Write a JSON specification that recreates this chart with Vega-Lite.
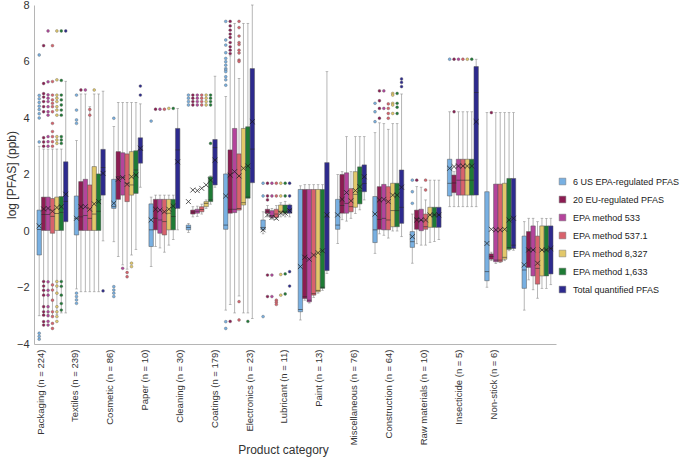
{
"$schema": "https://vega.github.io/schema/vega-lite/v6.json",
"width": 522, "height": 339,
"autosize": {"type": "none"},
"padding": {"left": 34, "top": 5, "right": 129, "bottom": 118},
"config": {"view": {"stroke": null}, "font": "Liberation Sans"},
"datasets": {
"boxes": [
{"c":"a","s":"A","lo":-3.0,"q1":-0.85,"md":0.05,"q3":0.74,"hi":3.0,"mn":0.18},
{"c":"a","s":"B","lo":-2.95,"q1":0.02,"md":0.58,"q3":1.2,"hi":2.9,"mn":0.78},
{"c":"a","s":"C","lo":-2.95,"q1":0.02,"md":0.58,"q3":1.2,"hi":2.9,"mn":0.8},
{"c":"a","s":"D","lo":-3.0,"q1":-0.08,"md":0.52,"q3":1.15,"hi":2.9,"mn":0.7},
{"c":"a","s":"E","lo":-2.95,"q1":0.02,"md":0.62,"q3":1.2,"hi":2.9,"mn":0.83},
{"c":"a","s":"F","lo":-2.9,"q1":0.02,"md":0.66,"q3":1.22,"hi":2.9,"mn":0.86},
{"c":"a","s":"G","lo":-2.9,"q1":0.33,"md":1.05,"q3":2.45,"hi":5.3,"mn":1.3},
{"c":"b","s":"A","lo":-2.05,"q1":-0.14,"md":0.45,"q3":1.24,"hi":3.2,"mn":0.45},
{"c":"b","s":"B","lo":-2.15,"q1":0.02,"md":0.5,"q3":1.75,"hi":4.85,"mn":0.86},
{"c":"b","s":"C","lo":-2.15,"q1":0.02,"md":0.55,"q3":1.83,"hi":4.85,"mn":0.86},
{"c":"b","s":"D","lo":-2.15,"q1":0.02,"md":0.45,"q3":1.63,"hi":4.4,"mn":0.77},
{"c":"b","s":"E","lo":-2.15,"q1":0.02,"md":0.6,"q3":2.28,"hi":4.85,"mn":0.96},
{"c":"b","s":"F","lo":-2.15,"q1":0.02,"md":0.7,"q3":2.02,"hi":4.85,"mn":1.04},
{"c":"b","s":"G","lo":-0.35,"q1":1.27,"md":2.25,"q3":2.89,"hi":4.95,"mn":2.04},
{"c":"c","s":"A","lo":-0.38,"q1":0.8,"md":0.86,"q3":1.83,"hi":3.7,"mn":0.98},
{"c":"c","s":"B","lo":-0.9,"q1":1.12,"md":1.92,"q3":2.81,"hi":4.55,"mn":1.83},
{"c":"c","s":"C","lo":-1.2,"q1":1.27,"md":1.9,"q3":2.77,"hi":4.55,"mn":1.89},
{"c":"c","s":"D","lo":-1.35,"q1":1.04,"md":1.69,"q3":2.73,"hi":4.55,"mn":1.65},
{"c":"c","s":"E","lo":-0.85,"q1":1.27,"md":1.63,"q3":2.81,"hi":4.55,"mn":1.92},
{"c":"c","s":"F","lo":-0.65,"q1":1.33,"md":2.16,"q3":2.84,"hi":4.55,"mn":1.98},
{"c":"c","s":"G","lo":1.55,"q1":2.4,"md":2.87,"q3":3.3,"hi":4.5,"mn":2.93},
{"c":"d","s":"A","lo":-1.26,"q1":-0.55,"md":0.04,"q3":0.96,"hi":1.2,"mn":0.39},
{"c":"d","s":"B","lo":-0.55,"q1":0.04,"md":0.45,"q3":1.12,"hi":1.27,"mn":0.77},
{"c":"d","s":"C","lo":-0.6,"q1":-0.08,"md":0.39,"q3":1.12,"hi":1.27,"mn":0.74},
{"c":"d","s":"D","lo":-0.75,"q1":-0.14,"md":0.33,"q3":1.12,"hi":1.27,"mn":0.68},
{"c":"d","s":"E","lo":-0.5,"q1":0.04,"md":0.63,"q3":1.12,"hi":1.27,"mn":0.77},
{"c":"d","s":"F","lo":-0.3,"q1":0.04,"md":0.51,"q3":1.12,"hi":1.27,"mn":0.88},
{"c":"d","s":"G","lo":0.04,"q1":0.8,"md":2.87,"q3":3.63,"hi":4.34,"mn":2.45},
{"c":"e","s":"A","lo":-0.05,"q1":0.04,"md":0.13,"q3":0.21,"hi":0.27,"mn":1.04},
{"c":"e","s":"B","lo":0.5,"q1":0.6,"md":0.67,"q3":0.74,"hi":0.86,"mn":1.45},
{"c":"e","s":"C","lo":0.52,"q1":0.63,"md":0.7,"q3":0.77,"hi":0.88,"mn":1.43},
{"c":"e","s":"D","lo":0.6,"q1":0.68,"md":0.76,"q3":0.86,"hi":0.95,"mn":1.51},
{"c":"e","s":"E","lo":0.8,"q1":0.86,"md":0.98,"q3":1.04,"hi":1.1,"mn":1.63},
{"c":"e","s":"F","lo":0.95,"q1":1.04,"md":1.1,"q3":1.92,"hi":1.95,"mn":1.8},
{"c":"e","s":"G","lo":1.55,"q1":1.63,"md":2.95,"q3":3.24,"hi":5.48,"mn":2.51},
{"c":"f","s":"A","lo":-2.8,"q1":0.06,"md":0.21,"q3":2.02,"hi":4.76,"mn":1.24},
{"c":"f","s":"B","lo":-2.6,"q1":0.63,"md":0.77,"q3":2.87,"hi":6.2,"mn":1.98},
{"c":"f","s":"C","lo":-2.9,"q1":0.65,"md":0.77,"q3":3.63,"hi":7.35,"mn":2.1},
{"c":"f","s":"D","lo":-2.3,"q1":0.74,"md":0.8,"q3":2.73,"hi":5.4,"mn":1.95},
{"c":"f","s":"E","lo":-2.9,"q1":0.92,"md":1.0,"q3":3.63,"hi":7.35,"mn":2.22},
{"c":"f","s":"F","lo":-2.9,"q1":1.16,"md":1.2,"q3":3.69,"hi":7.35,"mn":2.3},
{"c":"f","s":"G","lo":-3.1,"q1":1.71,"md":2.9,"q3":5.75,"hi":8.0,"mn":3.87},
{"c":"g","s":"A","lo":-0.1,"q1":0.04,"md":0.13,"q3":0.39,"hi":0.68,"mn":0.04},
{"c":"g","s":"B","lo":0.5,"q1":0.63,"md":0.7,"q3":0.77,"hi":0.9,"mn":0.57},
{"c":"g","s":"C","lo":0.42,"q1":0.48,"md":0.55,"q3":0.72,"hi":0.8,"mn":0.48},
{"c":"g","s":"D","lo":0.42,"q1":0.48,"md":0.6,"q3":0.77,"hi":0.9,"mn":0.45},
{"c":"g","s":"E","lo":0.5,"q1":0.63,"md":0.7,"q3":0.92,"hi":1.0,"mn":0.63},
{"c":"g","s":"F","lo":0.5,"q1":0.63,"md":0.7,"q3":0.92,"hi":1.05,"mn":0.63},
{"c":"g","s":"G","lo":0.5,"q1":0.63,"md":0.75,"q3":0.92,"hi":0.95,"mn":0.72},
{"c":"h","s":"A","lo":-3.15,"q1":-2.86,"md":-2.78,"q3":1.47,"hi":1.6,"mn":-1.26},
{"c":"h","s":"B","lo":-2.45,"q1":-2.39,"md":-2.33,"q3":1.47,"hi":1.64,"mn":-0.93},
{"c":"h","s":"C","lo":-2.55,"q1":-2.51,"md":-2.45,"q3":1.47,"hi":1.64,"mn":-1.0},
{"c":"h","s":"D","lo":-2.35,"q1":-2.27,"md":-2.22,"q3":1.47,"hi":1.64,"mn":-0.85},
{"c":"h","s":"E","lo":-2.2,"q1":-2.15,"md":-2.1,"q3":1.47,"hi":1.64,"mn":-0.77},
{"c":"h","s":"F","lo":-2.1,"q1":-2.03,"md":-1.99,"q3":1.47,"hi":1.64,"mn":-0.7},
{"c":"h","s":"G","lo":-1.5,"q1":-1.4,"md":0.5,"q3":2.42,"hi":5.64,"mn":0.57},
{"c":"i","s":"A","lo":-0.44,"q1":0.06,"md":0.21,"q3":1.12,"hi":2.0,"mn":0.57},
{"c":"i","s":"B","lo":0.4,"q1":0.63,"md":0.9,"q3":2.0,"hi":2.1,"mn":1.12},
{"c":"i","s":"C","lo":0.35,"q1":0.63,"md":0.98,"q3":2.06,"hi":3.34,"mn":1.36},
{"c":"i","s":"D","lo":0.45,"q1":0.68,"md":0.86,"q3":1.5,"hi":2.1,"mn":1.07},
{"c":"i","s":"E","lo":0.62,"q1":0.84,"md":1.3,"q3":2.1,"hi":3.34,"mn":1.43},
{"c":"i","s":"F","lo":0.75,"q1":0.96,"md":1.42,"q3":2.27,"hi":3.34,"mn":1.57},
{"c":"i","s":"G","lo":1.1,"q1":1.39,"md":1.68,"q3":2.34,"hi":3.34,"mn":1.92},
{"c":"j","s":"A","lo":-0.79,"q1":-0.41,"md":0.04,"q3":1.22,"hi":3.48,"mn":0.6},
{"c":"j","s":"B","lo":-0.1,"q1":0.06,"md":0.41,"q3":1.57,"hi":3.83,"mn":1.1},
{"c":"j","s":"C","lo":-0.15,"q1":0.04,"md":0.45,"q3":1.65,"hi":3.8,"mn":1.12},
{"c":"j","s":"D","lo":-0.25,"q1":0.04,"md":0.39,"q3":1.57,"hi":3.6,"mn":1.04},
{"c":"j","s":"E","lo":0.0,"q1":0.15,"md":0.72,"q3":1.69,"hi":3.8,"mn":1.27},
{"c":"j","s":"F","lo":0.0,"q1":0.15,"md":0.72,"q3":1.69,"hi":3.8,"mn":1.27},
{"c":"j","s":"G","lo":-0.2,"q1":0.27,"md":0.84,"q3":2.16,"hi":4.85,"mn":1.55},
{"c":"k","s":"A","lo":-1.14,"q1":-0.58,"md":-0.38,"q3":-0.02,"hi":0.6,"mn":-0.2},
{"c":"k","s":"B","lo":-0.45,"q1":0.06,"md":0.45,"q3":0.74,"hi":1.57,"mn":0.39},
{"c":"k","s":"C","lo":-0.5,"q1":0.01,"md":0.38,"q3":0.77,"hi":1.55,"mn":0.39},
{"c":"k","s":"D","lo":-0.5,"q1":0.06,"md":0.15,"q3":0.6,"hi":1.1,"mn":0.39},
{"c":"k","s":"E","lo":-0.4,"q1":0.13,"md":0.57,"q3":0.84,"hi":1.8,"mn":0.57},
{"c":"k","s":"F","lo":-0.37,"q1":0.13,"md":0.57,"q3":0.84,"hi":1.8,"mn":0.57},
{"c":"k","s":"G","lo":-0.3,"q1":0.13,"md":0.57,"q3":0.84,"hi":1.8,"mn":0.57},
{"c":"l","s":"A","lo":0.86,"q1":1.24,"md":1.69,"q3":2.54,"hi":4.22,"mn":2.22},
{"c":"l","s":"B","lo":0.86,"q1":1.36,"md":1.7,"q3":1.98,"hi":2.1,"mn":2.28},
{"c":"l","s":"C","lo":0.86,"q1":1.27,"md":1.8,"q3":2.54,"hi":4.22,"mn":2.3},
{"c":"l","s":"D","lo":0.86,"q1":1.27,"md":1.8,"q3":2.54,"hi":4.22,"mn":2.3},
{"c":"l","s":"E","lo":0.86,"q1":1.27,"md":1.8,"q3":2.54,"hi":4.22,"mn":2.3},
{"c":"l","s":"F","lo":0.86,"q1":1.27,"md":1.8,"q3":2.54,"hi":4.22,"mn":2.3},
{"c":"l","s":"G","lo":0.86,"q1":1.27,"md":4.9,"q3":5.82,"hi":6.08,"mn":3.87},
{"c":"m","s":"A","lo":-1.99,"q1":-1.76,"md":-1.44,"q3":1.39,"hi":4.19,"mn":-0.44},
{"c":"m","s":"B","lo":-1.05,"q1":-1.0,"md":-0.9,"q3":-0.81,"hi":-0.75,"mn":0.06},
{"c":"m","s":"C","lo":-1.15,"q1":-1.09,"md":-1.03,"q3":1.66,"hi":4.19,"mn":0.04},
{"c":"m","s":"D","lo":-1.12,"q1":-1.09,"md":-1.03,"q3":1.66,"hi":4.19,"mn":0.04},
{"c":"m","s":"E","lo":-1.05,"q1":-1.0,"md":-0.93,"q3":1.69,"hi":4.19,"mn":0.06},
{"c":"m","s":"F","lo":-0.7,"q1":-0.65,"md":-0.58,"q3":1.86,"hi":4.19,"mn":0.39},
{"c":"m","s":"G","lo":-0.68,"q1":-0.62,"md":-0.5,"q3":1.86,"hi":4.19,"mn":0.45},
{"c":"n","s":"A","lo":-2.8,"q1":-2.03,"md":-1.38,"q3":-0.18,"hi":0.33,"mn":-1.2},
{"c":"n","s":"B","lo":-1.73,"q1":-1.29,"md":-0.67,"q3":-0.02,"hi":0.45,"mn":-0.67},
{"c":"n","s":"C","lo":-2.08,"q1":-1.59,"md":-0.67,"q3":0.18,"hi":0.45,"mn":-0.67},
{"c":"n","s":"D","lo":-2.38,"q1":-1.88,"md":-1.32,"q3":-0.18,"hi":0.33,"mn":-1.14},
{"c":"n","s":"E","lo":-2.03,"q1":-1.59,"md":-0.67,"q3":0.18,"hi":0.45,"mn":-0.67},
{"c":"n","s":"F","lo":-2.03,"q1":-1.59,"md":-0.67,"q3":0.18,"hi":0.45,"mn":-0.67},
{"c":"n","s":"G","lo":-1.9,"q1":-1.52,"md":-0.62,"q3":0.18,"hi":0.45,"mn":-0.62}
],
"outliers": [
{"c":"a","s":"A","v":6.23},{"c":"a","s":"A","v":4.8},{"c":"a","s":"A","v":4.68},{"c":"a","s":"A","v":4.55},{"c":"a","s":"A","v":4.42},{"c":"a","s":"A","v":4.3},{"c":"a","s":"A","v":4.15},{"c":"a","s":"A","v":4.0},{"c":"a","s":"A","v":3.15},{"c":"a","s":"A","v":-3.62},{"c":"a","s":"A","v":-3.73},{"c":"a","s":"A","v":-3.83},
{"c":"a","s":"B","v":6.56},{"c":"a","s":"B","v":5.22},{"c":"a","s":"B","v":4.86},{"c":"a","s":"B","v":4.74},{"c":"a","s":"B","v":4.58},{"c":"a","s":"B","v":4.4},{"c":"a","s":"B","v":4.22},{"c":"a","s":"B","v":3.3},{"c":"a","s":"B","v":3.15},{"c":"a","s":"B","v":3.0},{"c":"a","s":"B","v":-1.79},{"c":"a","s":"B","v":-1.95},{"c":"a","s":"B","v":-2.1},{"c":"a","s":"B","v":-2.27},{"c":"a","s":"B","v":-2.68},{"c":"a","s":"B","v":-2.86},{"c":"a","s":"B","v":-2.98},{"c":"a","s":"B","v":-3.21},{"c":"a","s":"B","v":-3.33},
{"c":"a","s":"C","v":7.08},{"c":"a","s":"C","v":5.28},{"c":"a","s":"C","v":4.82},{"c":"a","s":"C","v":4.7},{"c":"a","s":"C","v":4.58},{"c":"a","s":"C","v":4.4},{"c":"a","s":"C","v":4.22},{"c":"a","s":"C","v":4.1},{"c":"a","s":"C","v":3.34},{"c":"a","s":"C","v":3.16},{"c":"a","s":"C","v":3.0},{"c":"a","s":"C","v":-1.8},{"c":"a","s":"C","v":-2.1},{"c":"a","s":"C","v":-2.27},{"c":"a","s":"C","v":-2.68},{"c":"a","s":"C","v":-2.86},{"c":"a","s":"C","v":-3.0},{"c":"a","s":"C","v":-3.2},{"c":"a","s":"C","v":-3.33},
{"c":"a","s":"D","v":6.56},{"c":"a","s":"D","v":5.29},{"c":"a","s":"D","v":4.81},{"c":"a","s":"D","v":4.64},{"c":"a","s":"D","v":4.52},{"c":"a","s":"D","v":4.4},{"c":"a","s":"D","v":4.22},{"c":"a","s":"D","v":3.81},{"c":"a","s":"D","v":3.52},{"c":"a","s":"D","v":3.34},{"c":"a","s":"D","v":3.16},{"c":"a","s":"D","v":3.0},{"c":"a","s":"D","v":-1.91},{"c":"a","s":"D","v":-2.09},{"c":"a","s":"D","v":-2.45},{"c":"a","s":"D","v":-2.86},{"c":"a","s":"D","v":-3.03},{"c":"a","s":"D","v":-3.27},{"c":"a","s":"D","v":-3.45},
{"c":"a","s":"E","v":7.08},{"c":"a","s":"E","v":5.35},{"c":"a","s":"E","v":4.81},{"c":"a","s":"E","v":4.7},{"c":"a","s":"E","v":4.58},{"c":"a","s":"E","v":4.4},{"c":"a","s":"E","v":4.28},{"c":"a","s":"E","v":4.1},{"c":"a","s":"E","v":3.34},{"c":"a","s":"E","v":3.22},{"c":"a","s":"E","v":3.1},{"c":"a","s":"E","v":-1.79},{"c":"a","s":"E","v":-1.95},{"c":"a","s":"E","v":-2.2},{"c":"a","s":"E","v":-2.68},{"c":"a","s":"E","v":-2.86},{"c":"a","s":"E","v":-3.03},{"c":"a","s":"E","v":-3.2},
{"c":"a","s":"F","v":7.08},{"c":"a","s":"F","v":5.33},{"c":"a","s":"F","v":4.81},{"c":"a","s":"F","v":4.64},{"c":"a","s":"F","v":4.46},{"c":"a","s":"F","v":4.28},{"c":"a","s":"F","v":4.1},{"c":"a","s":"F","v":3.34},{"c":"a","s":"F","v":3.22},{"c":"a","s":"F","v":3.1},{"c":"a","s":"F","v":-1.79},{"c":"a","s":"F","v":-1.96},{"c":"a","s":"F","v":-2.27},{"c":"a","s":"F","v":-2.57},{"c":"a","s":"F","v":-2.8},
{"c":"a","s":"G","v":7.08},
{"c":"b","s":"A","v":4.81},{"c":"b","s":"A","v":4.28},{"c":"b","s":"A","v":3.93},{"c":"b","s":"A","v":3.81},{"c":"b","s":"A","v":-2.2},{"c":"b","s":"A","v":-2.32},{"c":"b","s":"A","v":-2.44},{"c":"b","s":"A","v":-2.56},
{"c":"b","s":"B","v":4.99},{"c":"b","s":"C","v":4.99},{"c":"b","s":"D","v":4.3},{"c":"b","s":"D","v":4.1},{"c":"b","s":"E","v":4.99},{"c":"b","s":"G","v":-2.12},
{"c":"c","s":"A","v":3.99},{"c":"c","s":"A","v":-1.97},{"c":"c","s":"A","v":-2.09},{"c":"c","s":"A","v":-2.2},{"c":"c","s":"A","v":-2.32},
{"c":"c","s":"C","v":-1.32},{"c":"c","s":"D","v":-1.47},{"c":"c","s":"D","v":-1.62},{"c":"c","s":"E","v":-1.14},{"c":"c","s":"E","v":-1.26},{"c":"c","s":"G","v":5.13},{"c":"c","s":"G","v":4.81},
{"c":"d","s":"A","v":3.89},{"c":"d","s":"B","v":4.31},{"c":"d","s":"C","v":4.31},{"c":"d","s":"D","v":4.31},{"c":"d","s":"E","v":4.34},{"c":"d","s":"F","v":4.34},
{"c":"e","s":"A","v":4.81},{"c":"e","s":"A","v":4.7},{"c":"e","s":"A","v":4.58},{"c":"e","s":"A","v":4.46},
{"c":"e","s":"B","v":4.81},{"c":"e","s":"B","v":4.7},{"c":"e","s":"B","v":4.58},{"c":"e","s":"B","v":4.46},
{"c":"e","s":"C","v":4.81},{"c":"e","s":"C","v":4.7},{"c":"e","s":"C","v":4.58},{"c":"e","s":"C","v":4.46},
{"c":"e","s":"D","v":4.81},{"c":"e","s":"D","v":4.7},{"c":"e","s":"D","v":4.58},{"c":"e","s":"D","v":4.46},
{"c":"e","s":"E","v":4.81},{"c":"e","s":"E","v":4.7},{"c":"e","s":"E","v":4.58},{"c":"e","s":"E","v":4.46},
{"c":"e","s":"F","v":4.81},{"c":"e","s":"F","v":4.7},{"c":"e","s":"F","v":4.58},{"c":"e","s":"F","v":4.46},{"c":"e","s":"F","v":3.1},
{"c":"f","s":"A","v":7.42},{"c":"f","s":"A","v":6.76},{"c":"f","s":"A","v":6.58},{"c":"f","s":"A","v":6.31},{"c":"f","s":"A","v":6.11},{"c":"f","s":"A","v":5.99},{"c":"f","s":"A","v":5.87},{"c":"f","s":"A","v":5.75},{"c":"f","s":"A","v":5.7},{"c":"f","s":"A","v":5.64},{"c":"f","s":"A","v":5.46},{"c":"f","s":"A","v":5.35},{"c":"f","s":"A","v":5.16},{"c":"f","s":"A","v":-3.21},{"c":"f","s":"A","v":-3.45},
{"c":"f","s":"B","v":7.42},{"c":"f","s":"B","v":7.26},{"c":"f","s":"B","v":7.11},{"c":"f","s":"B","v":6.97},{"c":"f","s":"B","v":6.85},{"c":"f","s":"B","v":6.67},{"c":"f","s":"B","v":6.52},{"c":"f","s":"B","v":6.4},{"c":"f","s":"B","v":6.28},{"c":"f","s":"B","v":-3.2},
{"c":"f","s":"D","v":7.42},{"c":"f","s":"D","v":7.2},{"c":"f","s":"D","v":6.9},{"c":"f","s":"D","v":6.67},{"c":"f","s":"D","v":6.6},{"c":"f","s":"D","v":6.4},{"c":"f","s":"D","v":6.3},{"c":"f","s":"D","v":6.05},{"c":"f","s":"D","v":6.0},{"c":"f","s":"D","v":-2.5},{"c":"f","s":"D","v":-3.15},
{"c":"f","s":"F","v":-3.2},
{"c":"g","s":"A","v":1.69},{"c":"g","s":"A","v":1.24},{"c":"g","s":"A","v":-3.03},
{"c":"g","s":"B","v":1.69},{"c":"g","s":"B","v":1.24},{"c":"g","s":"B","v":1.1},{"c":"g","s":"B","v":-1.56},{"c":"g","s":"B","v":-2.32},
{"c":"g","s":"C","v":1.69},{"c":"g","s":"C","v":1.24},{"c":"g","s":"C","v":-1.56},{"c":"g","s":"C","v":-2.32},
{"c":"g","s":"D","v":1.69},{"c":"g","s":"D","v":1.24},{"c":"g","s":"D","v":-2.45},{"c":"g","s":"D","v":-2.52},{"c":"g","s":"D","v":-2.6},
{"c":"g","s":"E","v":1.69},{"c":"g","s":"E","v":1.24},{"c":"g","s":"E","v":-1.54},{"c":"g","s":"E","v":-2.27},
{"c":"g","s":"F","v":1.69},{"c":"g","s":"F","v":1.24},{"c":"g","s":"F","v":-1.52},{"c":"g","s":"F","v":-2.23},
{"c":"g","s":"G","v":1.69},{"c":"g","s":"G","v":1.24},{"c":"g","s":"G","v":-1.44},{"c":"g","s":"G","v":-1.95},
{"c":"j","s":"A","v":4.52},{"c":"j","s":"A","v":4.22},{"c":"j","s":"A","v":3.87},
{"c":"j","s":"B","v":4.96},{"c":"j","s":"B","v":4.61},{"c":"j","s":"B","v":4.34},{"c":"j","s":"B","v":3.99},
{"c":"j","s":"C","v":4.96},{"c":"j","s":"C","v":4.34},
{"c":"j","s":"D","v":4.5},{"c":"j","s":"D","v":4.34},{"c":"j","s":"D","v":4.16},{"c":"j","s":"D","v":3.99},
{"c":"j","s":"E","v":4.87},{"c":"j","s":"E","v":4.81},{"c":"j","s":"E","v":4.52},{"c":"j","s":"E","v":4.46},{"c":"j","s":"E","v":4.16},
{"c":"j","s":"F","v":4.87},{"c":"j","s":"F","v":4.52},{"c":"j","s":"F","v":4.38},{"c":"j","s":"F","v":4.16},
{"c":"j","s":"G","v":5.38},{"c":"j","s":"G","v":5.26},{"c":"j","s":"G","v":5.11},
{"c":"k","s":"A","v":1.8},{"c":"k","s":"A","v":1.39},{"c":"k","s":"A","v":0.98},{"c":"k","s":"B","v":1.8},{"c":"k","s":"D","v":1.8},{"c":"k","s":"D","v":1.45},
{"c":"l","s":"A","v":6.08},{"c":"l","s":"B","v":6.08},{"c":"l","s":"B","v":4.22},{"c":"l","s":"C","v":6.08},{"c":"l","s":"D","v":6.08},{"c":"l","s":"E","v":6.08},{"c":"l","s":"F","v":6.08},
{"c":"m","s":"B","v":4.19}
],
"cats": [{"c":"a"},{"c":"b"},{"c":"c"},{"c":"d"},{"c":"e"},{"c":"f"},{"c":"g"},{"c":"h"},{"c":"i"},{"c":"j"},{"c":"k"},{"c":"l"},{"c":"m"},{"c":"n"}]
},
"layer": [
{
"encoding": {
"x": {"field": "c", "type": "nominal", "axis": null,
"scale": {"type": "band", "domain": ["a","b","c","d","e","f","g","h","i","j","k","l","m","n"], "paddingInner": 0.17, "paddingOuter": 0.08}},
"xOffset": {"field": "s", "type": "nominal", "scale": {"domain": ["A","B","C","D","E","F","G"], "paddingInner": 0, "paddingOuter": 0}}
},
"layer": [
{"data": {"name": "boxes"}, "mark": {"type": "rule", "color": "#a3a3a3", "strokeWidth": 0.8},
"encoding": {"y": {"field": "lo", "type": "quantitative",
"scale": {"domain": [-4, 8], "nice": false, "zero": false},
"axis": {"values": [-4,-2,0,2,4,6,8], "title": "log [PFAS] (ppb)", "grid": false, "ticks": false,
"domainColor": "#b5b5b5", "labelColor": "#333", "labelFontSize": 11, "labelPadding": 5,
"titleFontSize": 12, "titleFontWeight": "normal", "titleColor": "#333", "titleX": -16, "titleBaseline": "bottom"}},
"y2": {"field": "hi"}}},
{"data": {"name": "boxes"}, "mark": {"type": "tick", "color": "#8a8a8a", "size": 2.6, "thickness": 0.8},
"encoding": {"y": {"field": "lo", "type": "quantitative"}}},
{"data": {"name": "boxes"}, "mark": {"type": "tick", "color": "#8a8a8a", "size": 2.6, "thickness": 0.8},
"encoding": {"y": {"field": "hi", "type": "quantitative"}}},
{"data": {"name": "boxes"}, "mark": {"type": "bar", "stroke": "#555", "strokeWidth": 0.5, "opacity": 1},
"encoding": {"y": {"field": "q1", "type": "quantitative"}, "y2": {"field": "q3"},
"color": {"field": "s", "type": "nominal",
"scale": {"domain": ["A","B","C","D","E","F","G"], "range": ["#78b0e2","#8c1c52","#b4449c","#d8626c","#e2c86a","#1e7b35","#2d2a8e"]},
"legend": {"title": null, "orient": "none", "legendX": 524, "legendY": 172, "symbolType": "square", "symbolSize": 45,
"symbolStrokeColor": "#777", "symbolStrokeWidth": 0.5, "labelFontSize": 9, "labelColor": "#222", "labelFont": "Liberation Sans",
"rowPadding": 8, "labelOffset": 6, "labelLimit": 200,
"labelExpr": "['6 US EPA-regulated PFAS','20 EU-regulated PFAS','EPA method 533','EPA method 537.1','EPA method 8,327','EPA method 1,633','Total quantified PFAS'][indexof('ABCDEFG', datum.value)]"}}}},
{"data": {"name": "boxes"}, "mark": {"type": "tick", "color": "#2a2a2a", "size": 4.4, "thickness": 0.8},
"encoding": {"y": {"field": "md", "type": "quantitative"}}},
{"data": {"name": "boxes"}, "mark": {"type": "point", "shape": "M-1,-1L1,1M-1,1L1,-1", "size": 24, "filled": false, "stroke": "#1a1a1a", "strokeWidth": 0.8, "opacity": 0.9},
"encoding": {"y": {"field": "mn", "type": "quantitative"}}},
{"data": {"name": "outliers"}, "mark": {"type": "point", "shape": "circle", "filled": true, "size": 8, "stroke": "#666", "strokeWidth": 0.4, "opacity": 1},
"encoding": {"y": {"field": "v", "type": "quantitative"}, "color": {"field": "s", "type": "nominal"}}}
]
},
{
"data": {"name": "cats"},
"mark": {"type": "tick", "opacity": 0},
"encoding": {
"x": {"field": "c", "type": "nominal",
"scale": {"type": "point", "domain": ["a","b","c","d","e","f","g","h","i","j","k","l","m","n"], "padding": 0.99, "align": 0.087},
"axis": {"orient": "bottom", "labelAngle": 270, "labelFontSize": 9.5, "labelColor": "#333", "ticks": false, "labelPadding": 5,
"domainColor": "#b5b5b5", "labelOverlap": false, "labelBound": false,
"labelExpr": "['Packaging (n = 224)','Textiles (n = 239)','Cosmetic (n = 86)','Paper (n = 10)','Cleaning (n = 30)','Coatings (n = 179)','Electronics (n = 23)','Lubricant (n = 11)','Paint (n = 13)','Miscellaneous (n = 76)','Construction (n = 64)','Raw materials (n = 10)','Insecticide (n = 5)','Non-stick (n = 6)'][indexof('abcdefghijklmn', datum.value)]",
"title": "Product category", "titleFontSize": 12, "titleFontWeight": "normal", "titleColor": "#333", "titleX": 249, "titleY": 100, "titleBaseline": "top"}}
}
}
],
"resolve": {"scale": {"x": "independent"}}
}
